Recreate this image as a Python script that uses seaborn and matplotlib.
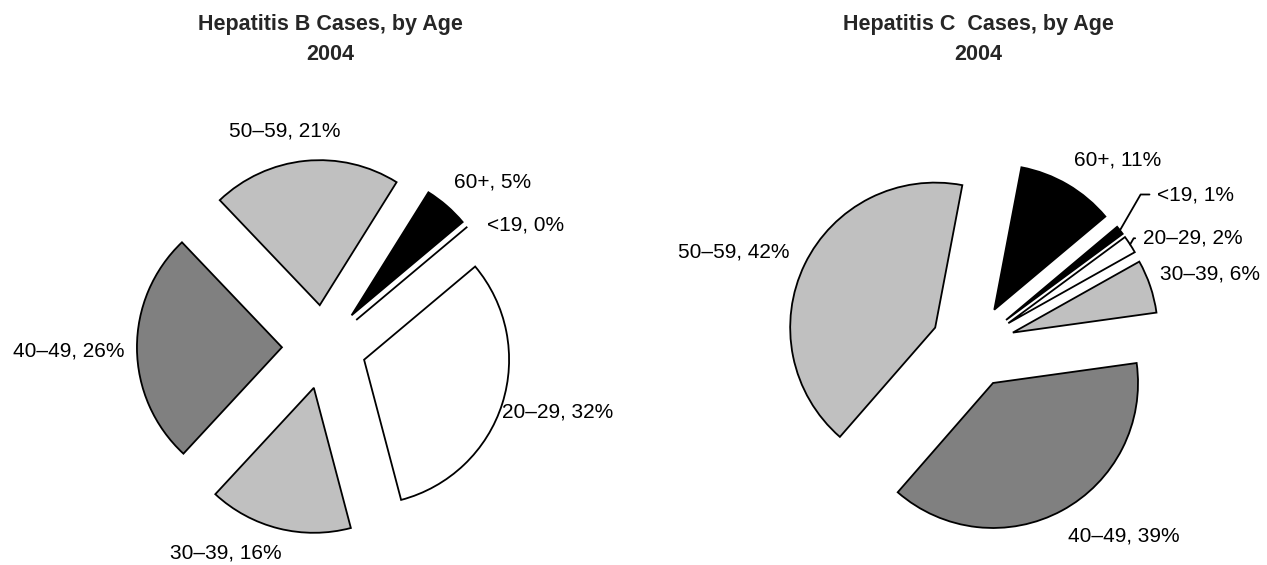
import numpy as np
import matplotlib
matplotlib.use("Agg")
import matplotlib.pyplot as plt
import seaborn as sns

# ---- data -------------------------------------------------------------
age_groups = ["<19", "20–29", "30–39", "40–49", "50–59", "60+"]
hep_b_pct = [0, 32, 16, 26, 21, 5]
hep_c_pct = [1, 2, 6, 39, 42, 11]
chart_titles = ["Hepatitis B Cases, by Age", "Hepatitis C  Cases, by Age"]
chart_year = "2004"

# ---- styling / layout -------------------------------------------------
slice_colors = ["#000000", "#ffffff", "#c0c0c0", "#808080", "#c0c0c0", "#000000"]

sns.set_theme(style="white")
plt.rcParams["font.family"] = ["Liberation Sans", "DejaVu Sans"]

FIG_W, FIG_H, DPI = 1267, 565, 100
RADIUS_PX = 145            # pie radius in pixels
EXPLODE = 0.29             # every slice pulled out by this fraction of the radius
START_ANGLE = 40
LABEL_DIST = 1.16          # label anchor distance from the slice apex (radii)
LABEL_SIZE = 15
TITLE_SIZE = 15.5
centers_px = [(324, 347), (973, 346)]   # pie centres (px from top-left)
title_x_px = [330, 978]
title_baselines_px = [30, 60]

# fine placement of individual labels (px, x right / y down)
label_nudge = {
    (0, "<19"): (11, 17), (0, "20–29"): (-20, 0), (0, "30–39"): (-34, -4),
    (0, "40–49"): (11, 2), (0, "50–59"): (-12, -1), (0, "60+"): (5, -2),
    (1, "<19"): (27, -17), (1, "20–29"): (1, 10), (1, "30–39"): (-10, -3),
    (1, "40–49"): (24, 0), (1, "60+"): (16, 0),
}
# labels tied back to their slice with a leader line
leader_labels = {(1, "<19"), (1, "20–29")}
LEADER_ANGLE = 60

fig = plt.figure(figsize=(FIG_W / DPI, FIG_H / DPI), dpi=DPI)
renderer = fig.canvas.get_renderer()

for k, values in enumerate([hep_b_pct, hep_c_pct]):
    left = 0.5 * k
    ax = fig.add_axes([left, 0, 0.5, 1])
    wedges, _ = ax.pie(
        values,
        explode=[EXPLODE] * len(values),
        colors=slice_colors,
        startangle=START_ANGLE,
        counterclock=False,
        normalize=True,
        wedgeprops=dict(edgecolor="black", linewidth=1.3, joinstyle="miter"),
    )
    cx, cy = centers_px[k]
    x0 = left * FIG_W
    ax.set_xlim((x0 - cx) / RADIUS_PX, (x0 + 0.5 * FIG_W - cx) / RADIUS_PX)
    ax.set_ylim((cy - FIG_H) / RADIUS_PX, cy / RADIUS_PX)
    ax.set_aspect("auto")
    ax.axis("off")

    for wedge, name, pct in zip(wedges, age_groups, values):
        mid = np.deg2rad(0.5 * (wedge.theta1 + wedge.theta2))
        ux, uy = np.cos(mid), np.sin(mid)
        wx, wy = wedge.center
        arc_mid = (wx + ux * wedge.r, wy + uy * wedge.r)
        px, py = wx + LABEL_DIST * ux, wy + LABEL_DIST * uy
        key = (k, name)
        arrow = None
        if key in leader_labels:
            arrow = dict(arrowstyle="-", color="black", lw=1.3, shrinkA=3, shrinkB=0,
                         connectionstyle=f"angle,angleA=0,angleB={LEADER_ANGLE},rad=0")
        ann = ax.annotate(f"{name}, {pct}%", xy=arc_mid, xytext=(px, py),
                          ha="center", va="center", fontsize=LABEL_SIZE,
                          color="black", arrowprops=arrow)
        bb = ann.get_window_extent(renderer)
        # push the text box outward so it sits outside the slice
        dx = 0.5 * bb.width * ux
        dy = 0.3 * bb.height * uy
        nx, ny = label_nudge.get(key, (0, 0))
        dx += nx
        dy -= ny
        ann.xyann = (px + dx / RADIUS_PX, py + dy / RADIUS_PX)

    for line, base in zip([chart_titles[k], chart_year], title_baselines_px):
        fig.text(title_x_px[k] / FIG_W, 1 - base / FIG_H, line, ha="center",
                 va="baseline", fontsize=TITLE_SIZE, fontweight="bold")

fig.savefig("out.png", dpi=DPI, facecolor="white")
